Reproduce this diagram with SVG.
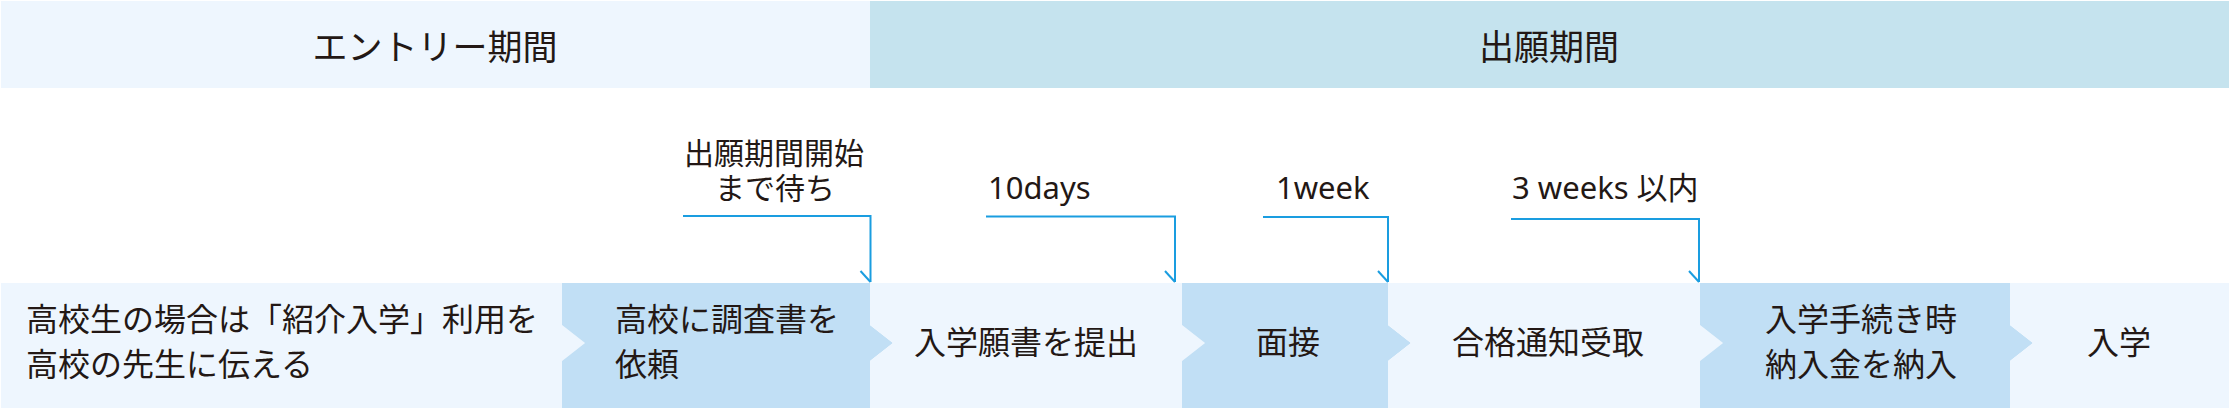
<svg xmlns="http://www.w3.org/2000/svg" width="2232" height="408" viewBox="0 0 2232 408">
  <style>
    .hdr-l { fill: #eef6fe; }
    .hdr-r { fill: #c5e3ee; }
    .light { fill: #eef6fe; }
    .blue { fill: #c1dff5; }
    .t { font-family: "Noto Sans CJK JP", sans-serif; fill: #231815; }
    .h { font-size: 35px; text-anchor: middle; }
    .b { font-size: 32px; }
    .m { text-anchor: middle; }
    .lab { font-family: "Noto Sans", "Noto Sans CJK JP", sans-serif; font-size: 31px; fill: #231815; }
    .lab2 { font-family: "Liberation Sans", "Noto Sans CJK JP", sans-serif; font-size: 30px; fill: #231815; text-anchor: middle; }
    .conn { fill: none; stroke: #1a9de0; stroke-width: 2; marker-end: url(#tick); }
  </style>
  <defs>
    <marker id="tick" markerUnits="userSpaceOnUse" orient="auto" refX="0" refY="0" markerWidth="20" markerHeight="20" overflow="visible">
      <path d="M0,0 L-11,10" fill="none" stroke="#1a9de0" stroke-width="2"/>
    </marker>
  </defs>

  <rect width="2232" height="408" fill="#ffffff"/>

  <g id="header-entry">
    <rect class="hdr-l" x="1" y="1" width="869" height="87"/>
    <text class="t h" x="435" y="60">エントリー期間</text>
  </g>
  <g id="header-apply">
    <rect class="hdr-r" x="870" y="1" width="1359" height="87"/>
    <text class="t h" x="1549" y="60">出願期間</text>
  </g>

  <g id="step1">
    <polygon class="light" points="1,283 562,283 562,325 585,343 562,361 562,408 1,408"/>
    <text class="t b" x="26" y="331">高校生の場合は「紹介入学」利用を<tspan x="26" dy="45">高校の先生に伝える</tspan></text>
  </g>
  <g id="step2">
    <polygon class="blue" points="562,283 870,283 870,325 893,343 870,361 870,408 562,408 562,361 585,343 562,325"/>
    <text class="t b" x="615" y="331">高校に調査書を<tspan x="615" dy="45">依頼</tspan></text>
  </g>
  <g id="step3">
    <polygon class="light" points="870,283 1182,283 1182,325 1205,343 1182,361 1182,408 870,408 870,361 893,343 870,325"/>
    <text class="t b m" x="1026" y="354">入学願書を提出</text>
  </g>
  <g id="step4">
    <polygon class="blue" points="1182,283 1388,283 1388,325 1411,343 1388,361 1388,408 1182,408 1182,361 1205,343 1182,325"/>
    <text class="t b m" x="1288" y="354">面接</text>
  </g>
  <g id="step5">
    <polygon class="light" points="1388,283 1700,283 1700,325 1723,343 1700,361 1700,408 1388,408 1388,361 1411,343 1388,325"/>
    <text class="t b m" x="1548" y="354">合格通知受取</text>
  </g>
  <g id="step6">
    <polygon class="blue" points="1700,283 2010,283 2010,325 2033,343 2010,361 2010,408 1700,408 1700,361 1723,343 1700,325"/>
    <text class="t b" x="1765" y="331">入学手続き時<tspan x="1765" dy="45">納入金を納入</tspan></text>
  </g>
  <g id="step7">
    <polygon class="light" points="2010,283 2229,283 2229,408 2010,408 2010,361 2033,343 2010,325"/>
    <text class="t b m" x="2119" y="354">入学</text>
  </g>

  <g id="connectors">
    <polyline class="conn" points="683,216 870.5,216 870.5,282"/>
    <polyline class="conn" points="986,216.5 1175,216.5 1175,282"/>
    <polyline class="conn" points="1263,217 1388,217 1388,282"/>
    <polyline class="conn" points="1511,219 1699,219 1699,282"/>
  </g>

  <g id="labels">
    <text class="lab2" x="774" y="164">出願期間開始<tspan x="775" dy="35">まで待ち</tspan></text>
    <text class="lab" x="988" y="199">10days</text>
    <text class="lab" x="1276" y="199">1week</text>
    <text class="lab" x="1512" y="199">3 weeks 以内</text>
  </g>
</svg>
